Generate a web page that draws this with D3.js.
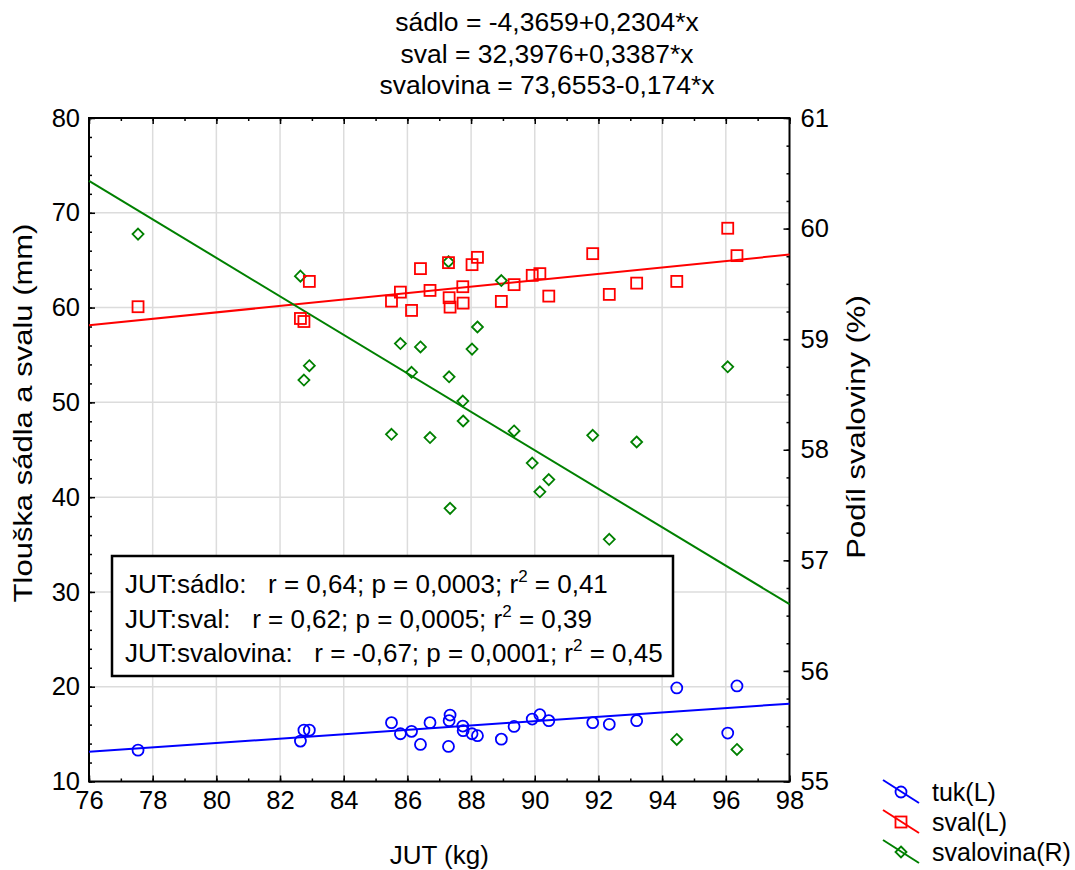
<!DOCTYPE html>
<html>
<head>
<meta charset="utf-8">
<script src="https://d3js.org/d3.v7.min.js"></script>
<style>
body { margin: 0; background: #fff; }
svg { display: block; font-family: "Liberation Sans", Arial, sans-serif; }
</style>
</head>
<body>
<div class="canvas"></div>
<script>
// data
const jut = [77.54, 82.64, 82.75, 82.92, 85.50, 85.78, 86.13, 86.41, 86.71, 87.29, 87.31, 87.34, 87.74, 87.75,
    88.03, 88.20, 88.95, 89.35, 89.92, 90.16, 90.44, 91.82, 92.34, 93.20, 94.46, 96.06, 96.35]
const tuk = [13.31, 14.26, 15.42, 15.42, 16.21, 15.04, 15.29, 13.91, 16.21, 13.70, 16.42, 17.01, 15.85, 15.36,
    15.04, 14.83, 14.47, 15.81, 16.59, 17.05, 16.42, 16.21, 16.03, 16.42, 19.87, 15.11, 20.08]
const sval = [60.09, 58.85, 58.53, 62.76, 60.68, 61.63, 59.70, 64.11, 61.81, 64.74, 61.04, 60.05, 62.20, 60.47,
    64.53, 65.30, 60.65, 62.42, 63.40, 63.58, 61.21, 65.69, 61.39, 62.58, 62.76, 68.37, 65.48]
const svalovina = [59.95, 59.57, 58.63, 58.76, 58.14, 58.96, 58.70, 58.93, 58.11, 59.70, 58.66, 57.47, 58.44, 58.26,
    58.91, 59.11, 59.53, 58.17, 57.88, 57.62, 57.73, 58.13, 57.19, 58.07, 55.38, 58.75, 55.29]

// regression lines: [intercept, slope]
const fitTuk = [-4.3659, 0.2304]
const fitSval = [32.3976, 0.3387]
const fitSvalovina = [73.6553, -0.174]

const titleLines = ["sádlo = -4,3659+0,2304*x", "sval = 32,3976+0,3387*x", "svalovina = 73,6553-0,174*x"]
const statLines = [
    ["JUT:sádlo:   r = 0,64; p = 0,0003; r", " = 0,41"],
    ["JUT:sval:   r = 0,62; p = 0,0005; r", " = 0,39"],
    ["JUT:svalovina:   r = -0,67; p = 0,0001; r", " = 0,45"]
]
const legendLabels = ["tuk(L)", "sval(L)", "svalovina(R)"]

const xTicks = d3.range(76, 99, 2)
const xMinor = d3.range(76, 99, 1)
const yLTicks = d3.range(10, 81, 10)
const yLMinor = d3.range(10, 81, 2)
const yRTicks = d3.range(55, 62, 1)
const yRMinor = d3.range(55, 61.01, 0.25)

// settings
const svgWidth = 1075
const svgHeight = 870
const plot = {left: 89, right: 789.5, top: 118, bottom: 781.5}
const fontSize = 25
const blue = "#0000ff", red = "#ff0000", green = "#008000"

const svg = d3.select(".canvas")
    .append("svg")
    .attr("width", svgWidth)
    .attr("height", svgHeight)

const x = d3.scaleLinear().domain([76, 98]).range([plot.left, plot.right])
const yL = d3.scaleLinear().domain([10, 80]).range([plot.bottom, plot.top])
const yR = d3.scaleLinear().domain([55, 61]).range([plot.bottom, plot.top])

// grid
const grid = svg.append("g").attr("stroke", "#dcdcdc").attr("stroke-width", 1.5)
grid.selectAll(".gx").data(xTicks.slice(1, -1)).enter().append("line")
    .attr("x1", d => x(d)).attr("x2", d => x(d))
    .attr("y1", plot.top).attr("y2", plot.bottom)
grid.selectAll(".gy").data(yLTicks.slice(1, -1)).enter().append("line")
    .attr("x1", plot.left).attr("x2", plot.right)
    .attr("y1", d => yL(d)).attr("y2", d => yL(d))

// axes
function styleAxis(g) {
    g.select(".domain").remove()
    g.selectAll("line").attr("stroke", "#000").attr("stroke-width", 1.5)
    g.selectAll("text").attr("font-size", fontSize + 0.5).attr("fill", "#000").attr("font-family", null)
}

svg.append("g").attr("transform", `translate(0,${plot.bottom})`)
    .call(d3.axisBottom(x).tickValues(xTicks).tickSizeInner(-6).tickSizeOuter(0).tickPadding(9).tickFormat(d3.format("d")))
    .call(styleAxis)
svg.append("g").attr("transform", `translate(0,${plot.bottom})`)
    .call(d3.axisBottom(x).tickValues(xMinor).tickSizeInner(-3).tickSizeOuter(0).tickFormat(""))
    .call(styleAxis)
svg.append("g").attr("transform", `translate(0,${plot.top})`)
    .call(d3.axisTop(x).tickValues(xTicks).tickSizeInner(-6).tickSizeOuter(0).tickFormat(""))
    .call(styleAxis)
svg.append("g").attr("transform", `translate(0,${plot.top})`)
    .call(d3.axisTop(x).tickValues(xMinor).tickSizeInner(-3).tickSizeOuter(0).tickFormat(""))
    .call(styleAxis)

svg.append("g").attr("transform", `translate(${plot.left},0)`)
    .call(d3.axisLeft(yL).tickValues(yLTicks).tickSizeInner(-6).tickSizeOuter(0).tickPadding(9).tickFormat(d3.format("d")))
    .call(styleAxis)
svg.append("g").attr("transform", `translate(${plot.left},0)`)
    .call(d3.axisLeft(yL).tickValues(yLMinor).tickSizeInner(-3).tickSizeOuter(0).tickFormat(""))
    .call(styleAxis)

svg.append("g").attr("transform", `translate(${plot.right},0)`)
    .call(d3.axisRight(yR).tickValues(yRTicks).tickSizeInner(-6).tickSizeOuter(0).tickPadding(11).tickFormat(d3.format("d")))
    .call(styleAxis)
svg.append("g").attr("transform", `translate(${plot.right},0)`)
    .call(d3.axisRight(yR).tickValues(yRMinor).tickSizeInner(-3).tickSizeOuter(0).tickFormat(""))
    .call(styleAxis)

// frame
svg.append("rect")
    .attr("x", plot.left).attr("y", plot.top)
    .attr("width", plot.right - plot.left).attr("height", plot.bottom - plot.top)
    .attr("fill", "none").attr("stroke", "#000").attr("stroke-width", 2)

// regression lines
const fits = [
    {fit: fitTuk, y: yL, color: blue},
    {fit: fitSval, y: yL, color: red},
    {fit: fitSvalovina, y: yR, color: green}
]
fits.forEach(f => {
    const dom = x.domain()
    svg.append("line")
        .attr("x1", x(dom[0])).attr("y1", f.y(f.fit[0] + f.fit[1] * dom[0]))
        .attr("x2", x(dom[1])).attr("y2", f.y(f.fit[0] + f.fit[1] * dom[1]))
        .attr("stroke", f.color).attr("stroke-width", 2)
})

// markers
const diamond = (cx, cy, r) => `M${cx},${cy - r}L${cx + r},${cy}L${cx},${cy + r}L${cx - r},${cy}Z`

svg.append("g").selectAll("path")
    .data(d3.range(jut.length))
    .enter().append("path")
        .attr("d", i => diamond(x(jut[i]), yR(svalovina[i]), 5.5))
        .attr("fill", "none").attr("stroke", green).attr("stroke-width", 1.8)

svg.append("g").selectAll("rect")
    .data(d3.range(jut.length))
    .enter().append("rect")
        .attr("x", i => x(jut[i]) - 5.5).attr("y", i => yL(sval[i]) - 5.5)
        .attr("width", 11).attr("height", 11)
        .attr("fill", "none").attr("stroke", red).attr("stroke-width", 1.8)

svg.append("g").selectAll("circle")
    .data(d3.range(jut.length))
    .enter().append("circle")
        .attr("cx", i => x(jut[i])).attr("cy", i => yL(tuk[i]))
        .attr("r", 5.5)
        .attr("fill", "none").attr("stroke", blue).attr("stroke-width", 1.8)

// stats box
svg.append("rect")
    .attr("x", 112).attr("y", 556).attr("width", 561).attr("height", 120)
    .attr("fill", "#fff").attr("stroke", "#000").attr("stroke-width", 2.5)

statLines.forEach((s, i) => {
    const t = svg.append("text")
        .attr("x", 125).attr("y", 593 + i * 34.5)
        .attr("font-size", 26)
        .attr("xml:space", "preserve")
        .style("white-space", "pre")
    t.append("tspan").text(s[0])
    t.append("tspan").attr("font-size", 17).attr("dy", -11).text("2")
    t.append("tspan").attr("dy", 11).text(s[1])
})

// title
svg.selectAll(".title").data(titleLines).enter().append("text")
    .attr("class", "title")
    .attr("x", 547).attr("y", (d, i) => 31 + i * 31.5)
    .attr("text-anchor", "middle")
    .attr("font-size", 26.5)
    .text(d => d)

// axis titles
svg.append("text")
    .attr("x", (plot.left + plot.right) / 2).attr("y", 864)
    .attr("text-anchor", "middle").attr("font-size", 26)
    .text("JUT (kg)")
svg.append("text")
    .attr("transform", `translate(32,413) rotate(-90) scale(1,0.85)`)
    .attr("text-anchor", "middle").attr("font-size", 31)
    .text("Tlouška sádla a svalu (mm)")
svg.append("text")
    .attr("transform", `translate(865,427) rotate(-90) scale(1,0.85)`)
    .attr("text-anchor", "middle").attr("font-size", 31)
    .text("Podíl svaloviny (%)")

// legend
const legendColors = [blue, red, green]
const legend = svg.append("g")
legendLabels.forEach((lab, i) => {
    const cy = 792 + i * 30
    legend.append("line")
        .attr("x1", 883).attr("y1", cy - 12).attr("x2", 919).attr("y2", cy + 11)
        .attr("stroke", legendColors[i]).attr("stroke-width", 2)
    if (i === 0) {
        legend.append("circle").attr("cx", 901).attr("cy", cy).attr("r", 5.5)
            .attr("fill", "none").attr("stroke", blue).attr("stroke-width", 1.8)
    } else if (i === 1) {
        legend.append("rect").attr("x", 895.5).attr("y", cy - 5.5).attr("width", 11).attr("height", 11)
            .attr("fill", "none").attr("stroke", red).attr("stroke-width", 1.8)
    } else {
        legend.append("path").attr("d", diamond(901, cy, 5.5))
            .attr("fill", "none").attr("stroke", green).attr("stroke-width", 1.8)
    }
    legend.append("text")
        .attr("x", 932).attr("y", cy + 9)
        .attr("font-size", fontSize)
        .text(lab)
})
</script>
</body>
</html>
